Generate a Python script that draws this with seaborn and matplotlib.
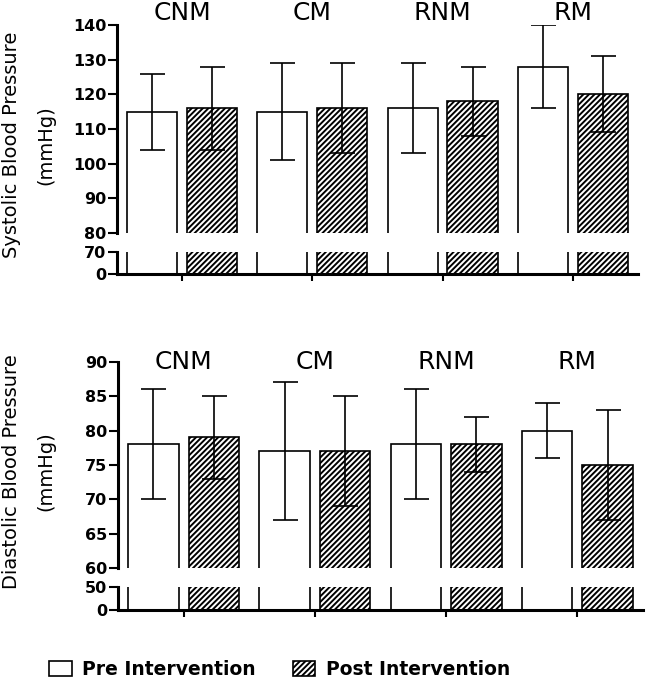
import numpy as np
import pandas as pd
import matplotlib
matplotlib.use('Agg')
import matplotlib.pyplot as plt
from matplotlib.patches import Patch
import seaborn as sns

# Data
groups = ['CNM', 'CM', 'RNM', 'RM']
phases = ['Pre Intervention', 'Post Intervention']

sys_pre = [115, 115, 116, 128]
sys_pre_sd = [11, 14, 13, 12]
sys_post = [116, 116, 118, 120]
sys_post_sd = [12, 13, 10, 11]

dia_pre = [78, 77, 78, 80]
dia_pre_sd = [8, 10, 8, 4]
dia_post = [79, 77, 78, 75]
dia_post_sd = [6, 8, 4, 8]

sns.set_style('ticks')
plt.rcParams['font.family'] = ['DejaVu Sans']
plt.rcParams['hatch.linewidth'] = 1.4
plt.rcParams['axes.linewidth'] = 2.2
plt.rcParams['text.color'] = 'black'
plt.rcParams['xtick.color'] = 'black'
plt.rcParams['ytick.color'] = 'black'
plt.rcParams['axes.edgecolor'] = 'black'


def make_df(pre, post):
    return pd.DataFrame({
        'group': groups * 2,
        'phase': [phases[0]] * 4 + [phases[1]] * 4,
        'value': pre + post,
    })


def draw_bars(ax, df):
    sns.barplot(data=df, x='group', y='value', hue='phase', ax=ax,
                palette=['white', 'white'], edgecolor='black', linewidth=1.2,
                width=0.92, gap=0.163, errorbar=None, legend=False)
    for bar in ax.containers[1]:
        bar.set_hatch('//////')
    ax.set_xlim(-0.5, 3.5)
    ax.set_xlabel('')
    ax.set_ylabel('')


def draw_panel(rect_top, rect_bot, pre, pre_sd, post, post_sd, top_lim, top_ticks,
               bot_lim, label_y, ylabel, ylabel_y):
    df = make_df(pre, post)
    ax_top = fig.add_axes(rect_top)
    ax_bot = fig.add_axes(rect_bot)

    draw_bars(ax_top, df)
    draw_bars(ax_bot, df)

    # error bars on the upper section
    for cont, vals, errs in zip(ax_top.containers, [pre, post], [pre_sd, post_sd]):
        xs = [b.get_x() + b.get_width() / 2 for b in cont]
        ax_top.errorbar(xs, vals, yerr=errs, fmt='none', ecolor='black',
                        elinewidth=1.2, capsize=9, capthick=1.2, zorder=5)

    ax_top.set_ylim(*top_lim)
    ax_top.set_yticks(top_ticks)
    ax_top.set_xticks([])
    sns.despine(ax=ax_top, bottom=True)

    ax_bot.set_ylim(*bot_lim)
    ax_bot.set_yticks(list(bot_lim))
    ax_bot.set_xticks(range(4))
    ax_bot.set_xticklabels([])
    sns.despine(ax=ax_bot)

    for ax in (ax_top, ax_bot):
        ax.tick_params(axis='y', length=6.5, width=1.5, pad=1, labelsize=11.5)
        ax.tick_params(axis='x', length=5, width=1.5)
        for t in ax.get_yticklabels():
            t.set_fontweight('bold')

    for i, g in enumerate(groups):
        ax_top.text(i, label_y, g, ha='center', va='center', fontsize=18, clip_on=False)

    fig.text(0.017, ylabel_y, ylabel, rotation=90, ha='center', va='center', fontsize=14)
    fig.text(0.071, ylabel_y, '(mmHg)', rotation=90, ha='center', va='center', fontsize=14)


fig = plt.figure(figsize=(6.5, 6.91), dpi=100)

draw_panel([0.18, 0.6628, 0.8015, 0.301], [0.18, 0.6035, 0.8015, 0.0318],
           sys_pre, sys_pre_sd, sys_post, sys_post_sd,
           (80, 140), [80, 90, 100, 110, 120, 130, 140], (0, 70),
           143.6, 'Systolic Blood Pressure', 0.79)

draw_panel([0.1815, 0.1776, 0.8077, 0.299], [0.1815, 0.1172, 0.8077, 0.0337],
           dia_pre, dia_pre_sd, dia_post, dia_post_sd,
           (60, 90), [60, 65, 70, 75, 80, 85, 90], (0, 50),
           90, 'Diastolic Blood Pressure', 0.318)

handles = [Patch(facecolor='white', edgecolor='black', linewidth=1.2),
           Patch(facecolor='white', edgecolor='black', linewidth=1.2, hatch='//////')]
fig.legend(handles, phases, loc='center', bbox_to_anchor=(0.43, 0.031), ncol=2,
           frameon=False, handlelength=1.2, handleheight=0.8, handletextpad=0.55,
           columnspacing=2.0, prop={'weight': 'bold', 'size': 13.5})

fig.savefig('out.png', dpi=100)
